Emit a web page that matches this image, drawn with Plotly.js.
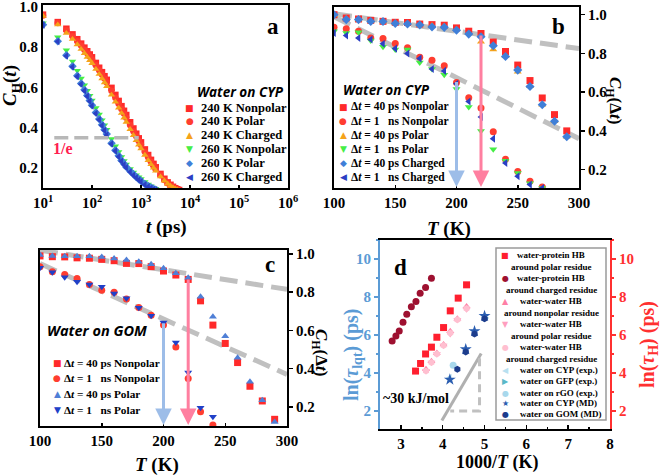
<!DOCTYPE html>
<html><head><meta charset="utf-8">
<script src="https://cdn.plot.ly/plotly-3.0.1.min.js"></script>
<style>html,body{margin:0;padding:0;background:#fff}#chart{width:661px;height:476px}</style>
</head><body><div id="chart"></div>
<script>
// ---------------- DATA ----------------
// Panel a: C_H(t) vs t (ps), water on CYP
const tA = [10,20,30,40,50,60,70,80,90,100,120,140,160,180,200,250,300,350,400,450,500,600,700,800,900,1000,1200,1400,1600,1800,2000,2500,3000,3500,4000,4500,5000,5500,6000];
const a240Nonpolar = [0.962,0.925,0.892,0.864,0.840,0.818,0.798,0.780,0.764,0.750,0.722,0.698,0.676,0.656,0.638,0.598,0.563,0.533,0.507,0.484,0.463,0.427,0.396,0.370,0.347,0.327,0.292,0.264,0.240,0.220,0.203,0.170,0.146,0.128,0.116,0.106,0.099,0.094,0.090];
const a240Polar    = [0.958,0.920,0.884,0.855,0.830,0.808,0.788,0.770,0.754,0.739,0.710,0.686,0.664,0.644,0.625,0.584,0.549,0.519,0.493,0.470,0.449,0.413,0.382,0.357,0.334,0.314,0.280,0.253,0.230,0.211,0.195,0.163,0.140,0.123,0.111,0.102,0.096,0.091,0.087];
const a240Charged  = [0.955,0.912,0.870,0.840,0.813,0.790,0.770,0.751,0.735,0.720,0.691,0.666,0.644,0.624,0.605,0.563,0.528,0.498,0.472,0.449,0.428,0.392,0.362,0.337,0.315,0.296,0.264,0.238,0.217,0.200,0.185,0.156,0.136,0.121,0.110,0.102,0.096,0.092,0.088];
const a260Nonpolar = [0.920,0.850,0.785,0.730,0.684,0.645,0.612,0.584,0.559,0.536,0.498,0.466,0.438,0.413,0.390,0.344,0.308,0.279,0.255,0.235,0.218,0.195,0.178,0.164,0.154,0.145,0.130,0.118,0.109,0.102,0.097,0.090,null,null,null,null,null,null,null];
const a260Polar    = [0.912,0.830,0.760,0.705,0.658,0.620,0.588,0.560,0.535,0.512,0.475,0.443,0.415,0.390,0.368,0.323,0.288,0.260,0.237,0.220,0.205,0.184,0.168,0.155,0.144,0.135,0.120,0.110,0.102,0.096,0.092,null,null,null,null,null,null,null,null];
const a260Charged  = [0.910,0.828,0.757,0.702,0.655,0.616,0.584,0.556,0.531,0.508,0.471,0.439,0.411,0.386,0.364,0.319,0.284,0.256,0.233,0.216,0.201,0.180,0.164,0.151,0.140,0.131,0.116,0.106,0.099,0.093,0.089,null,null,null,null,null,null,null,null];
const eLineT = [17, 900];
const eLineC = [0.35, 0.35];
const tickValsA = [10,100,1000,10000,100000,1000000];
const tickTextA = ['10<sup>1</sup>','10<sup>2</sup>','10<sup>3</sup>','10<sup>4</sup>','10<sup>5</sup>','10<sup>6</sup>'];
const namesA = ['240 K Nonpolar','240 K Polar','240 K Charged','260 K Nonpolar','260 K Polar','260 K Charged'];

// Panel b: C_H(Δt) vs T (K), water on CYP
const tempB = [100,110,120,130,140,150,160,170,180,190,200,210,220,230,240,250,260,270,280,290];
const b40Nonpolar = [1.000,0.983,0.978,0.971,0.966,0.961,0.960,0.952,0.949,0.946,0.932,0.915,0.903,0.859,0.810,0.740,0.660,0.570,0.484,0.400];
const b1Nonpolar  = [0.935,0.927,0.915,0.880,0.877,0.852,0.830,0.780,0.765,0.736,0.650,0.571,0.518,0.396,0.254,0.190,0.140,0.110,null,null];
const b40Polar    = [0.998,0.980,0.975,0.968,0.965,0.958,0.956,0.950,0.945,0.940,0.925,0.905,0.860,0.820,0.785,0.705,0.630,0.535,0.450,0.370];
const b1Polar     = [0.915,0.906,0.910,0.867,0.835,0.820,0.820,0.753,0.720,0.690,0.617,0.523,0.400,0.305,0.246,0.183,0.130,0.105,null,null];
const b40Charged  = [1.000,0.975,0.975,0.965,0.965,0.955,0.952,0.947,0.937,0.935,0.920,0.900,0.886,0.840,0.784,0.714,0.629,0.535,0.450,0.370];
const b1Charged   = [0.906,0.893,0.880,0.872,0.850,0.825,0.800,0.774,0.720,0.710,0.643,0.552,0.472,0.360,0.234,0.166,0.123,0.105,null,null];
const bGuideT = [100, 300];
const bGuideUpper = [1.005, 0.825];
const bGuideLower = [0.99, 0.36];
const bArrowT = [200, 220];
const bArrowTop = [0.66, 0.90];
const namesB = ['Δ<i>t</i> = 40 ps Nonpolar','Δ<i>t</i> = 1\u00a0\u00a0\u00a0ns Nonpolar','Δ<i>t</i> = 40 ps Polar','Δ<i>t</i> = 1\u00a0\u00a0\u00a0ns Polar','Δ<i>t</i> = 40 ps Charged','Δ<i>t</i> = 1\u00a0\u00a0\u00a0ns Charged'];

// Panel c: C_H(Δt) vs T (K), water on GOM
const tempC = [100,110,120,130,140,150,160,170,180,190,200,210,220,230,240,250,260,270,280,290];
const c40Nonpolar = [0.990,0.986,0.985,0.980,0.978,0.972,0.965,0.951,0.950,0.934,0.911,0.890,0.867,0.755,0.628,0.532,0.432,0.308,0.231,0.135];
const c1Nonpolar  = [0.934,0.907,0.893,0.872,0.840,0.810,0.800,0.764,0.720,0.680,0.628,0.514,0.348,0.174,0.105,null,null,null,null,null];
const c40Polar    = [0.995,0.990,0.988,0.988,0.988,0.985,0.977,0.969,0.960,0.946,0.925,0.899,0.876,0.776,0.672,0.570,0.457,0.331,0.235,0.121];
const c1Polar     = [0.928,0.904,0.878,0.855,0.840,0.829,0.794,0.768,0.719,0.677,0.642,0.537,0.380,0.195,0.148,null,null,null,null,null];
const cGuideT = [100, 300];
const cGuideUpper = [1.02, 0.815];
const cGuideLower = [0.95, 0.37];
const cArrowT = [200, 220];
const cArrowTop = [0.645, 0.875];
const namesC = ['Δ<i>t</i> = 40 ps Nonpolar','Δ<i>t</i> = 1\u00a0\u00a0\u00a0ns Nonpolar','Δ<i>t</i> = 40 ps Polar','Δ<i>t</i> = 1\u00a0\u00a0\u00a0ns Polar'];

// Panel d: ln(tau) vs 1000/T
const protPolarX = [3.35,3.47,3.59,3.73,3.86,4.02,4.18,4.37,4.57];
const protPolarY = [4.10,4.50,5.00,5.36,5.88,6.39,7.27,7.94,8.64];
const protChargedX = [2.79,2.88,2.96,3.05,3.14,3.25,3.36,3.46,3.59,3.73];
const protChargedY = [5.68,5.95,6.21,6.67,7.09,7.48,7.76,8.20,8.50,8.98];
const wwNonpolarX = [3.60,3.73,3.86,4.02,4.18,4.35,4.57];
const wwNonpolarY = [4.20,4.62,5.05,5.50,6.20,6.85,7.50];
const wwPolarX = [3.60,3.73,3.86,4.02,4.18,4.35,4.57];
const wwPolarY = [4.12,4.55,5.00,5.45,6.05,6.80,7.35];
const wwChargedX = [3.60,3.73,3.86,4.02,4.18,4.35,4.57];
const wwChargedY = [4.10,4.55,5.00,5.45,6.10,6.80,7.40];
const cypExpX = [4.17,5.00];
const cypExpY = [3.75,6.95];
const gfpExpX = [5.02];
const gfpExpY = [6.90];
const rgoExpX = [4.25];
const rgoExpY = [4.40];
const cypMdX = [4.17,4.55,4.76,5.00];
const cypMdY = [3.65,5.25,6.20,7.00];
const gomMdX = [4.35,4.55,4.76,5.00];
const gomMdY = [4.20,5.10,6.05,6.85];
const dSlopeX = [3.98, 4.92];
const dSlopeY = [1.5, 5.03];
const dLegX = [4.88, 4.88, 4.18];
const dLegY = [4.77, 2.0, 2.0];
const namesD = [
  ['water-protein HB','around polar residue'],
  ['water-protein HB','around charged residue'],
  ['water-water HB','around nonpolar residue'],
  ['water-water HB','around polar residue'],
  ['water-water HB','around charged residue'],
  ['water on CYP (exp.)'],['water on GFP (exp.)'],['water on rGO (exp.)'],['water on CYP (MD)'],['water on GOM (MD)']
];

// ---------------- STYLE / LAYOUT ----------------
const W = 661, H = 476;
const SERIF = 'Liberation Serif, Times New Roman, serif';
const SANS = 'Open Sans, Liberation Sans, sans-serif';
const fx = p => p / W, fy = p => 1 - p / H;
const BLUE_AX = '#5b9bd5', RED_AX = '#ff3030';

const C = {red:'#ff2a2a', redc:'#ff3d30', orange:'#f5a31a', green:'#45ee45', blue:'#3f7fd8', navy:'#2b3fc4',
           cblue:'#4f7fd6', cnavy:'#2040c8',
           pPolar:'#ff1f2f', pCharged:'#9e1030', wwNon:'#ff7fa6', wwPol:'#ff9fbf', wwChg:'#ffbfd0',
           cypE:'#b8e0f0', gfpE:'#5ab8c8', rgoE:'#a8d8ec', cypM:'#2a5db0', gomM:'#1c3c8c'};
const GLYPH = {'square':'■','circle':'●','triangle-up':'▲','triangle-down':'▼','diamond':'◆','triangle-left':'◀','triangle-right':'▶','star':'★','hexagon':'●'};

function pts(x, y, xa, ya, symbol, color, size) {
  return {type:'scatter', mode:'markers', x:x, y:y, xaxis:xa, yaxis:ya, showlegend:false, cliponaxis:true,
          marker:{symbol:symbol, color:color, size:size, line:{width:0}}, hoverinfo:'skip'};
}
function guide(x, y, xa, ya, color, width, dash, opacity) {
  return {type:'scatter', mode:'lines', x:x, y:y, xaxis:xa, yaxis:ya, showlegend:false, hoverinfo:'skip',
          line:{color:color, width:width, dash:dash}, opacity:opacity};
}

const styA = [['square',C.red],['circle',C.redc],['triangle-up',C.orange],['triangle-down',C.green],['diamond',C.blue],['triangle-left',C.navy]];
const seriesA = [a240Nonpolar,a240Polar,a240Charged,a260Nonpolar,a260Polar,a260Charged];
const styB = styA;
const seriesB = [b40Nonpolar,b1Nonpolar,b40Polar,b1Polar,b40Charged,b1Charged];
const styC = [['square',C.red],['circle',C.redc],['triangle-up',C.cblue],['triangle-down',C.cnavy]];
const seriesC = [c40Nonpolar,c1Nonpolar,c40Polar,c1Polar];
const styD = [['square',C.pPolar],['circle',C.pCharged],['triangle-up',C.wwNon],['triangle-down',C.wwPol],['hexagon',C.wwChg],
              ['triangle-left',C.cypE],['triangle-right',C.gfpE],['circle',C.rgoE],['star',C.cypM],['hexagon',C.gomM]];
const seriesD = [[protPolarX,protPolarY,'y5'],[protChargedX,protChargedY,'y5'],[wwNonpolarX,wwNonpolarY,'y5'],[wwPolarX,wwPolarY,'y5'],[wwChargedX,wwChargedY,'y5'],
                 [cypExpX,cypExpY,'y4'],[gfpExpX,gfpExpY,'y4'],[rgoExpX,rgoExpY,'y4'],[cypMdX,cypMdY,'y4'],[gomMdX,gomMdY,'y4']];

const traces = [];
seriesA.forEach((s,i) => traces.push(pts(tA, s, 'x', 'y', styA[i][0], styA[i][1], 6.5)));
traces.push(guide(eLineT, eLineC, 'x', 'y', '#b8b8b8', 3.5, '14px,6px', 1));

traces.push(guide(bGuideT, bGuideUpper, 'x2', 'y2', '#c0c0c0', 5, '18px,8px', 1));
traces.push(guide(bGuideT, bGuideLower, 'x2', 'y2', '#c0c0c0', 5, '18px,8px', 1));
seriesB.forEach((s,i) => traces.push(pts(tempB, s, 'x2', 'y2', styB[i][0], styB[i][1], 7)));

traces.push(guide(cGuideT, cGuideUpper, 'x3', 'y3', '#c0c0c0', 5, '18px,8px', 1));
traces.push(guide(cGuideT, cGuideLower, 'x3', 'y3', '#c0c0c0', 5, '18px,8px', 1));
seriesC.forEach((s,i) => traces.push(pts(tempC, s, 'x3', 'y3', styC[i][0], styC[i][1], 7)));

traces.push(guide(dSlopeX, dSlopeY, 'x4', 'y4', '#b0b0b0', 3, 'solid', 1));
traces.push(guide(dLegX, dLegY, 'x4', 'y4', '#c0c0c0', 3, '8px,5px', 1));
seriesD.forEach((s,i) => traces.push(pts(s[0], s[1], 'x4', s[2], styD[i][0], styD[i][1], i===8 ? 9 : 7)));

// axes
const tickFont = {family:SERIF, size:15, color:'#000', weight:'bold'};
const base = {showgrid:false, zeroline:false, showline:true, linecolor:'#000', linewidth:2, ticklabeloverflow:'allow',
              tickfont:tickFont, ticks:'inside', ticklen:3, tickcolor:'#000', tickwidth:1.5};
const yTicks = [0.2,0.4,0.6,0.8,1.0];

const layout = {
  width:W, height:H, autosize:false, margin:{l:0,r:0,t:0,b:0}, paper_bgcolor:'#fff', plot_bgcolor:'#fff',
  showlegend:false, font:{family:SERIF, color:'#000'},
  xaxis: Object.assign({}, base, {domain:[fx(43),fx(288)], anchor:'y', type:'log', range:[1,6], tickvals:tickValsA, ticktext:tickTextA, mirror:true}),
  yaxis: Object.assign({}, base, {domain:[fy(188),fy(5)], anchor:'x', range:[0.1,1.01], tickvals:yTicks, tickformat:'.1f', mirror:true, ticks:''}),
  xaxis2: Object.assign({}, base, {domain:[fx(334),fx(579)], anchor:'y2', range:[100,300], tick0:100, dtick:50, mirror:true}),
  yaxis2: Object.assign({}, base, {domain:[fy(188),fy(7)], anchor:'x2', side:'right', range:[0.105,1.04], tickvals:yTicks, tickformat:'.1f', mirror:true, ticks:'outside', ticklen:4}),
  xaxis3: Object.assign({}, base, {domain:[fx(40),fx(287)], anchor:'y3', range:[100,300], tick0:100, dtick:50, mirror:true}),
  yaxis3: Object.assign({}, base, {domain:[fy(426),fy(250)], anchor:'x3', side:'right', range:[0.1,1.021], tickvals:yTicks, tickformat:'.1f', mirror:true, ticks:'outside', ticklen:4}),
  xaxis4: Object.assign({}, base, {domain:[fx(380),fx(610)], anchor:'y4', range:[2.5,8], tick0:3, dtick:1, mirror:true, ticklen:4,
           minor:{ticks:'inside', ticklen:2, dtick:0.5, tickcolor:'#000'}}),
  yaxis4: Object.assign({}, base, {domain:[fy(429),fy(240)], anchor:'x4', range:[1.05,11], tick0:2, dtick:2, linecolor:BLUE_AX,
           tickfont:Object.assign({}, tickFont, {color:BLUE_AX}), ticks:'outside', ticklen:4, tickcolor:BLUE_AX,
           minor:{ticks:'outside', ticklen:2, dtick:1, tickcolor:BLUE_AX}}),
  yaxis5: Object.assign({}, base, {overlaying:'y4', anchor:'x4', side:'right', range:[1.05,11], tick0:2, dtick:2, linecolor:RED_AX,
           tickfont:Object.assign({}, tickFont, {color:RED_AX}), ticks:'outside', ticklen:4, tickcolor:RED_AX,
           minor:{ticks:'outside', ticklen:2, dtick:1, tickcolor:RED_AX}}),
  annotations:[], shapes:[]
};

const A = layout.annotations;
function txt(xp, yp, text, size, color, opts) {
  A.push(Object.assign({xref:'paper', yref:'paper', x:fx(xp), y:fy(yp), text:text, showarrow:false,
    font:{family:SERIF, size:size, color:color||'#000'}, xanchor:'center', yanchor:'middle'}, opts||{}));
}
function glyph(xp, yp, sym, color, size) {
  txt(xp, yp, GLYPH[sym], size||9, color, {font:{family:'DejaVu Sans', size:size||9, color:color}});
}

// axis titles
txt(11, 86, '<b><i>C</i><sub>H</sub>(<i>t</i>)</b>', 19, '#000', {textangle:-90});
txt(166, 227, '<b><i>t</i> (ps)</b>', 19);
txt(449, 229, '<b><i>T</i> (K)</b>', 19);
txt(614, 100, '<b><i>C</i><sub>H</sub>(Δ<i>t</i>)</b>', 17, '#000', {textangle:90});
txt(157, 465, '<b><i>T</i> (K)</b>', 19);
txt(320, 352, '<b><i>C</i><sub>H</sub>(Δ<i>t</i>)</b>', 17, '#000', {textangle:90});
txt(497, 462, '<b>1000/<i>T</i> (K)</b>', 18);
txt(352, 355, '<b>ln(<i>τ</i><sub>lqt</sub>) (ps)</b>', 20, BLUE_AX, {textangle:-90});
txt(648, 345, '<b>ln(<i>τ</i><sub>H</sub>) (ps)</b>', 20, RED_AX, {textangle:-90});

// panel letters
txt(273, 26, '<b>a</b>', 23);
txt(558, 26, '<b>b</b>', 23);
txt(270, 264, '<b>c</b>', 23);
txt(400, 267, '<b>d</b>', 23);

// misc text
txt(63, 148, '<b>1/e</b>', 16, '#ff2050');
txt(416, 398, '<b>~30 kJ/mol</b>', 14);

// legends a, b, c
txt(240, 92, '<b><i>Water on CYP</i></b>', 13.5, '#000', {font:{family:SANS, size:13.5, color:'#000'}});
const rowsA = [108,121,135,149,163,177];
namesA.forEach((n,i) => { glyph(190, rowsA[i], styA[i][0], styA[i][1], 9); txt(199, rowsA[i], '<b>'+n+'</b>', 12.5, '#000', {xanchor:'left'}); });

txt(387, 90, '<b><i>Water on CYP</i></b>', 13.5, '#000', {font:{family:SANS, size:13.5, color:'#000'}});
const rowsB = [107,121,135,149,163,177];
namesB.forEach((n,i) => { glyph(343, rowsB[i], styB[i][0], styB[i][1], 9); txt(349, rowsB[i], '<b>'+n+'</b>', 11.5, '#000', {xanchor:'left'}); });

txt(97, 330, '<b><i>Water on GOM</i></b>', 14.5, '#000', {font:{family:SANS, size:14.5, color:'#000'}});
const rowsC = [363,378,394,410];
namesC.forEach((n,i) => { glyph(57, rowsC[i], styC[i][0], styC[i][1], 9); txt(62, rowsC[i], '<b>'+n+'</b>', 11.3, '#000', {xanchor:'left'}); });

// legend d
layout.shapes.push({type:'rect', xref:'paper', yref:'paper', x0:fx(496), x1:fx(606), y0:fy(420), y1:fy(248), line:{color:'#9a9a9a', width:1.5}});
const rowsD = [255,278,301,324,347,370,381,393,403,414];
namesD.forEach((n,i) => {
  glyph(505, rowsD[i], styD[i][0], styD[i][1], 8);
  if (n.length === 2) {
    txt(551, rowsD[i], '<b>'+n[0]+'</b>', 9);
    txt(551, rowsD[i]+12, '<b>'+n[1]+'</b>', 9);
  } else {
    txt(518, rowsD[i], '<b>'+n[0]+'</b>', 9, '#000', {xanchor:'left'});
  }
});

// arrows
function arrow(xa, ya, t, top, bottom, color) {
  A.push({xref:xa, yref:ya, axref:xa, ayref:ya, x:t, y:bottom, ax:t, ay:top, text:'', showarrow:true,
          arrowhead:2, arrowsize:1.1, arrowwidth:3, arrowcolor:color, standoff:0, startstandoff:0});
}
const arrowColors = ['#9dbde8', '#ff7fa0'];
bArrowT.forEach((t,i) => arrow('x2','y2', t, bArrowTop[i], 0.11, arrowColors[i]));
cArrowT.forEach((t,i) => arrow('x3','y3', t, cArrowTop[i], 0.105, arrowColors[i]));

Plotly.newPlot('chart', traces, layout, {displayModeBar:false, staticPlot:true});
</script></body></html>
